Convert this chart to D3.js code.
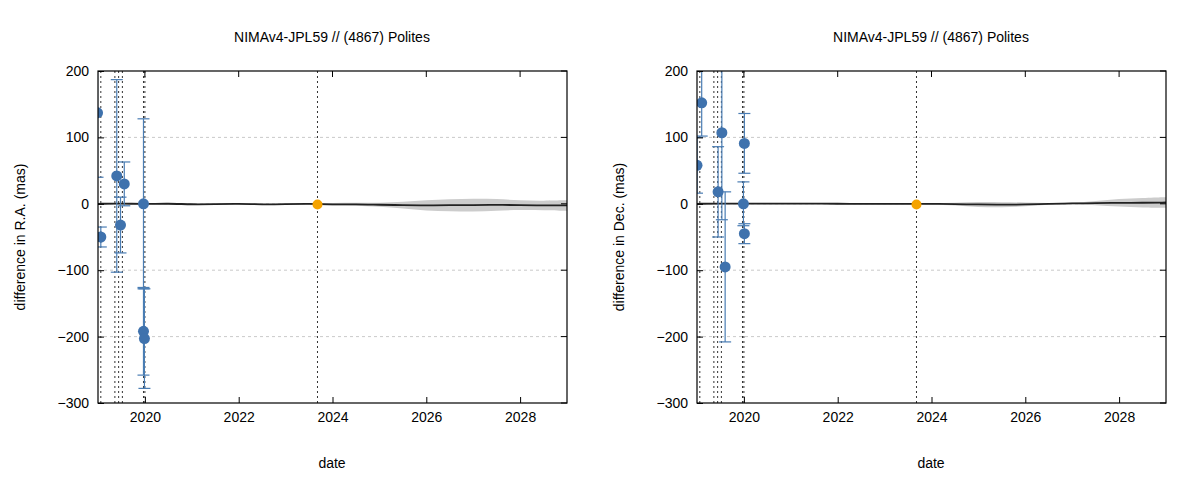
<!DOCTYPE html><html><head><meta charset="utf-8">
<script src="https://cdn.jsdelivr.net/npm/d3@7"></script>
<style>body{margin:0;background:#fff}text{font-family:Arial,"Liberation Sans",sans-serif}</style></head><body>
<svg id="c" width="1200" height="480"></svg>
<script>
const titles=["NIMAv4-JPL59 // (4867) Polites","NIMAv4-JPL59 // (4867) Polites"];
const yLabels=["difference in R.A. (mas)","difference in Dec. (mas)"];
const xTicks=[2020,2022,2024,2026,2028];
const yTicks=[-300,-200,-100,0,100,200];
const obsDatesRA=[2018.99,2019.06,2019.40,2019.48,2019.56,2019.97,2019.97,2019.99];
const obsRA=[137,-50,42,-32,30,0,-192,-203];
const errRA=[97,15,145,42,33,128,66,75];
const obsDatesDec=[2019.0,2019.1,2019.45,2019.53,2019.6,2019.99,2020.01,2020.01];
const obsDec=[58,152,18,107,-95,0,91,-45];
const errDec=[42,50,68,131,113,33,45,15];
const refLines=[2018.99,2019.06,2019.36,2019.44,2019.52,2019.97,2020.0,2023.68];
const gaiaDate=[2023.68];const gaiaRA=[-1];const gaiaDec=[-1];
const lineDates=[2019,2019.5,2020,2020.5,2021,2021.5,2022,2022.5,2023,2023.5,2024,2024.5,2025,2025.5,2026,2026.5,2027,2027.5,2028,2028.5,2029];
const lineRA=[0,0.5,-0.5,0.5,-1,-0.5,0,-1,-0.5,0,-1,-0.5,-1.5,-2,-2.5,-2,-2,-1.5,-2,-2.5,-2.5];
const bandRA=[1,1,1,1,1,1,1,1,1,1,2,2,3,5,8,9,10,9,7,7,8];
const lineDec=[0,0.5,0,0.5,0,0.5,0,0,0,0,0,-0.5,-1,-1.5,-1,0,0.5,1,1.5,1.5,2];
const bandDec=[1,1,1,1,1,1,1,1,1,1,1,2,4,4,3,1,1,3,6,7,8];
const svg=d3.select("#c");
function panel(ox,i,dates,vals,errs,line,band,gv){
 const x=d3.scaleLinear().domain([2019,2029]).range([ox,ox+469]);
 const y=d3.scaleLinear().domain([-300,200]).range([403,71]);
 const g=svg.append("g");
 g.selectAll("line.gr").data([-200,-100,0,100]).join("line").attr("class","gr").attr("x1",ox).attr("x2",ox+469).attr("y1",d=>y(d)).attr("y2",d=>y(d)).attr("stroke","#bbb").attr("stroke-dasharray","3,3").attr("stroke-width",0.8);
 const cl="clip"+i;
 g.append("clipPath").attr("id",cl).append("rect").attr("x",ox).attr("y",71).attr("width",469).attr("height",332);
 const p=g.append("g").attr("clip-path",`url(#${cl})`);
 p.append("path").datum(lineDates.map((d,k)=>[d,line[k],band[k]])).attr("fill","#ccc")
  .attr("d",d3.area().x(d=>x(d[0])).y0(d=>y(d[1]-d[2])).y1(d=>y(d[1]+d[2])).curve(d3.curveBasis));
 p.append("path").datum(lineDates.map((d,k)=>[d,line[k]])).attr("fill","none").attr("stroke","#222").attr("stroke-width",1.8)
  .attr("d",d3.line().x(d=>x(d[0])).y(d=>y(d[1])).curve(d3.curveBasis));
 p.selectAll("line.rl").data(refLines).join("line").attr("class","rl").attr("x1",d=>x(d)).attr("x2",d=>x(d)).attr("y1",71).attr("y2",403).attr("stroke","#333").attr("stroke-dasharray","2,3").attr("stroke-width",1);
 const o=dates.map((d,k)=>({d,v:vals[k],e:errs[k]}));
 p.selectAll("line.eb").data(o).join("line").attr("class","eb").attr("x1",d=>x(d.d)).attr("x2",d=>x(d.d)).attr("y1",d=>y(d.v-d.e)).attr("y2",d=>y(d.v+d.e)).attr("stroke","#4a7db4").attr("stroke-width",1.2);
 ["lo","hi"].forEach(s=>p.selectAll("line.cap"+s).data(o).join("line").attr("class","cap"+s).attr("x1",d=>x(d.d)-6).attr("x2",d=>x(d.d)+6).attr("y1",d=>y(s=="lo"?d.v-d.e:d.v+d.e)).attr("y2",d=>y(s=="lo"?d.v-d.e:d.v+d.e)).attr("stroke","#4a7db4").attr("stroke-width",1.2));
 p.selectAll("circle.pt").data(o).join("circle").attr("class","pt").attr("cx",d=>x(d.d)).attr("cy",d=>y(d.v)).attr("r",5.5).attr("fill","#3f72ad");
 p.selectAll("circle.gp").data(gaiaDate).join("circle").attr("class","gp").attr("cx",d=>x(d)).attr("cy",(d,k)=>y(gv[k])).attr("r",5).attr("fill","#f5a300");
 const ax=g.append("g").attr("transform","translate(0,403)").call(d3.axisBottom(x).tickValues(xTicks).tickFormat(d3.format("d")).tickSizeInner(-6).tickSizeOuter(0).tickPadding(9));
 const ay=g.append("g").attr("transform",`translate(${ox},0)`).call(d3.axisLeft(y).tickValues(yTicks).tickSizeInner(-6).tickSizeOuter(0).tickPadding(9));
 [ax,ay].forEach(a=>{a.select(".domain").remove();a.selectAll("text").attr("font-size",14).attr("fill","#000");a.selectAll("line").attr("stroke","#000")});
 g.selectAll("line.tt").data(xTicks).join("line").attr("class","tt").attr("x1",d=>x(d)).attr("x2",d=>x(d)).attr("y1",71).attr("y2",77).attr("stroke","#000");
 g.selectAll("line.tr").data(yTicks).join("line").attr("class","tr").attr("x1",ox+469).attr("x2",ox+463).attr("y1",d=>y(d)).attr("y2",d=>y(d)).attr("stroke","#000");
 g.append("rect").attr("x",ox).attr("y",71).attr("width",469).attr("height",332).attr("fill","none").attr("stroke","#000").attr("stroke-width",1.2);
 g.append("text").attr("x",ox+234).attr("y",42).attr("text-anchor","middle").attr("font-size",14).text(titles[i]);
 g.append("text").attr("x",ox+234).attr("y",468).attr("text-anchor","middle").attr("font-size",14).text("date");
 g.append("text").attr("transform",`translate(${ox-73},237) rotate(-90)`).attr("text-anchor","middle").attr("font-size",14).text(yLabels[i]);
}
panel(98,0,obsDatesRA,obsRA,errRA,lineRA,bandRA,gaiaRA);
panel(697,1,obsDatesDec,obsDec,errDec,lineDec,bandDec,gaiaDec);
</script></body></html>
